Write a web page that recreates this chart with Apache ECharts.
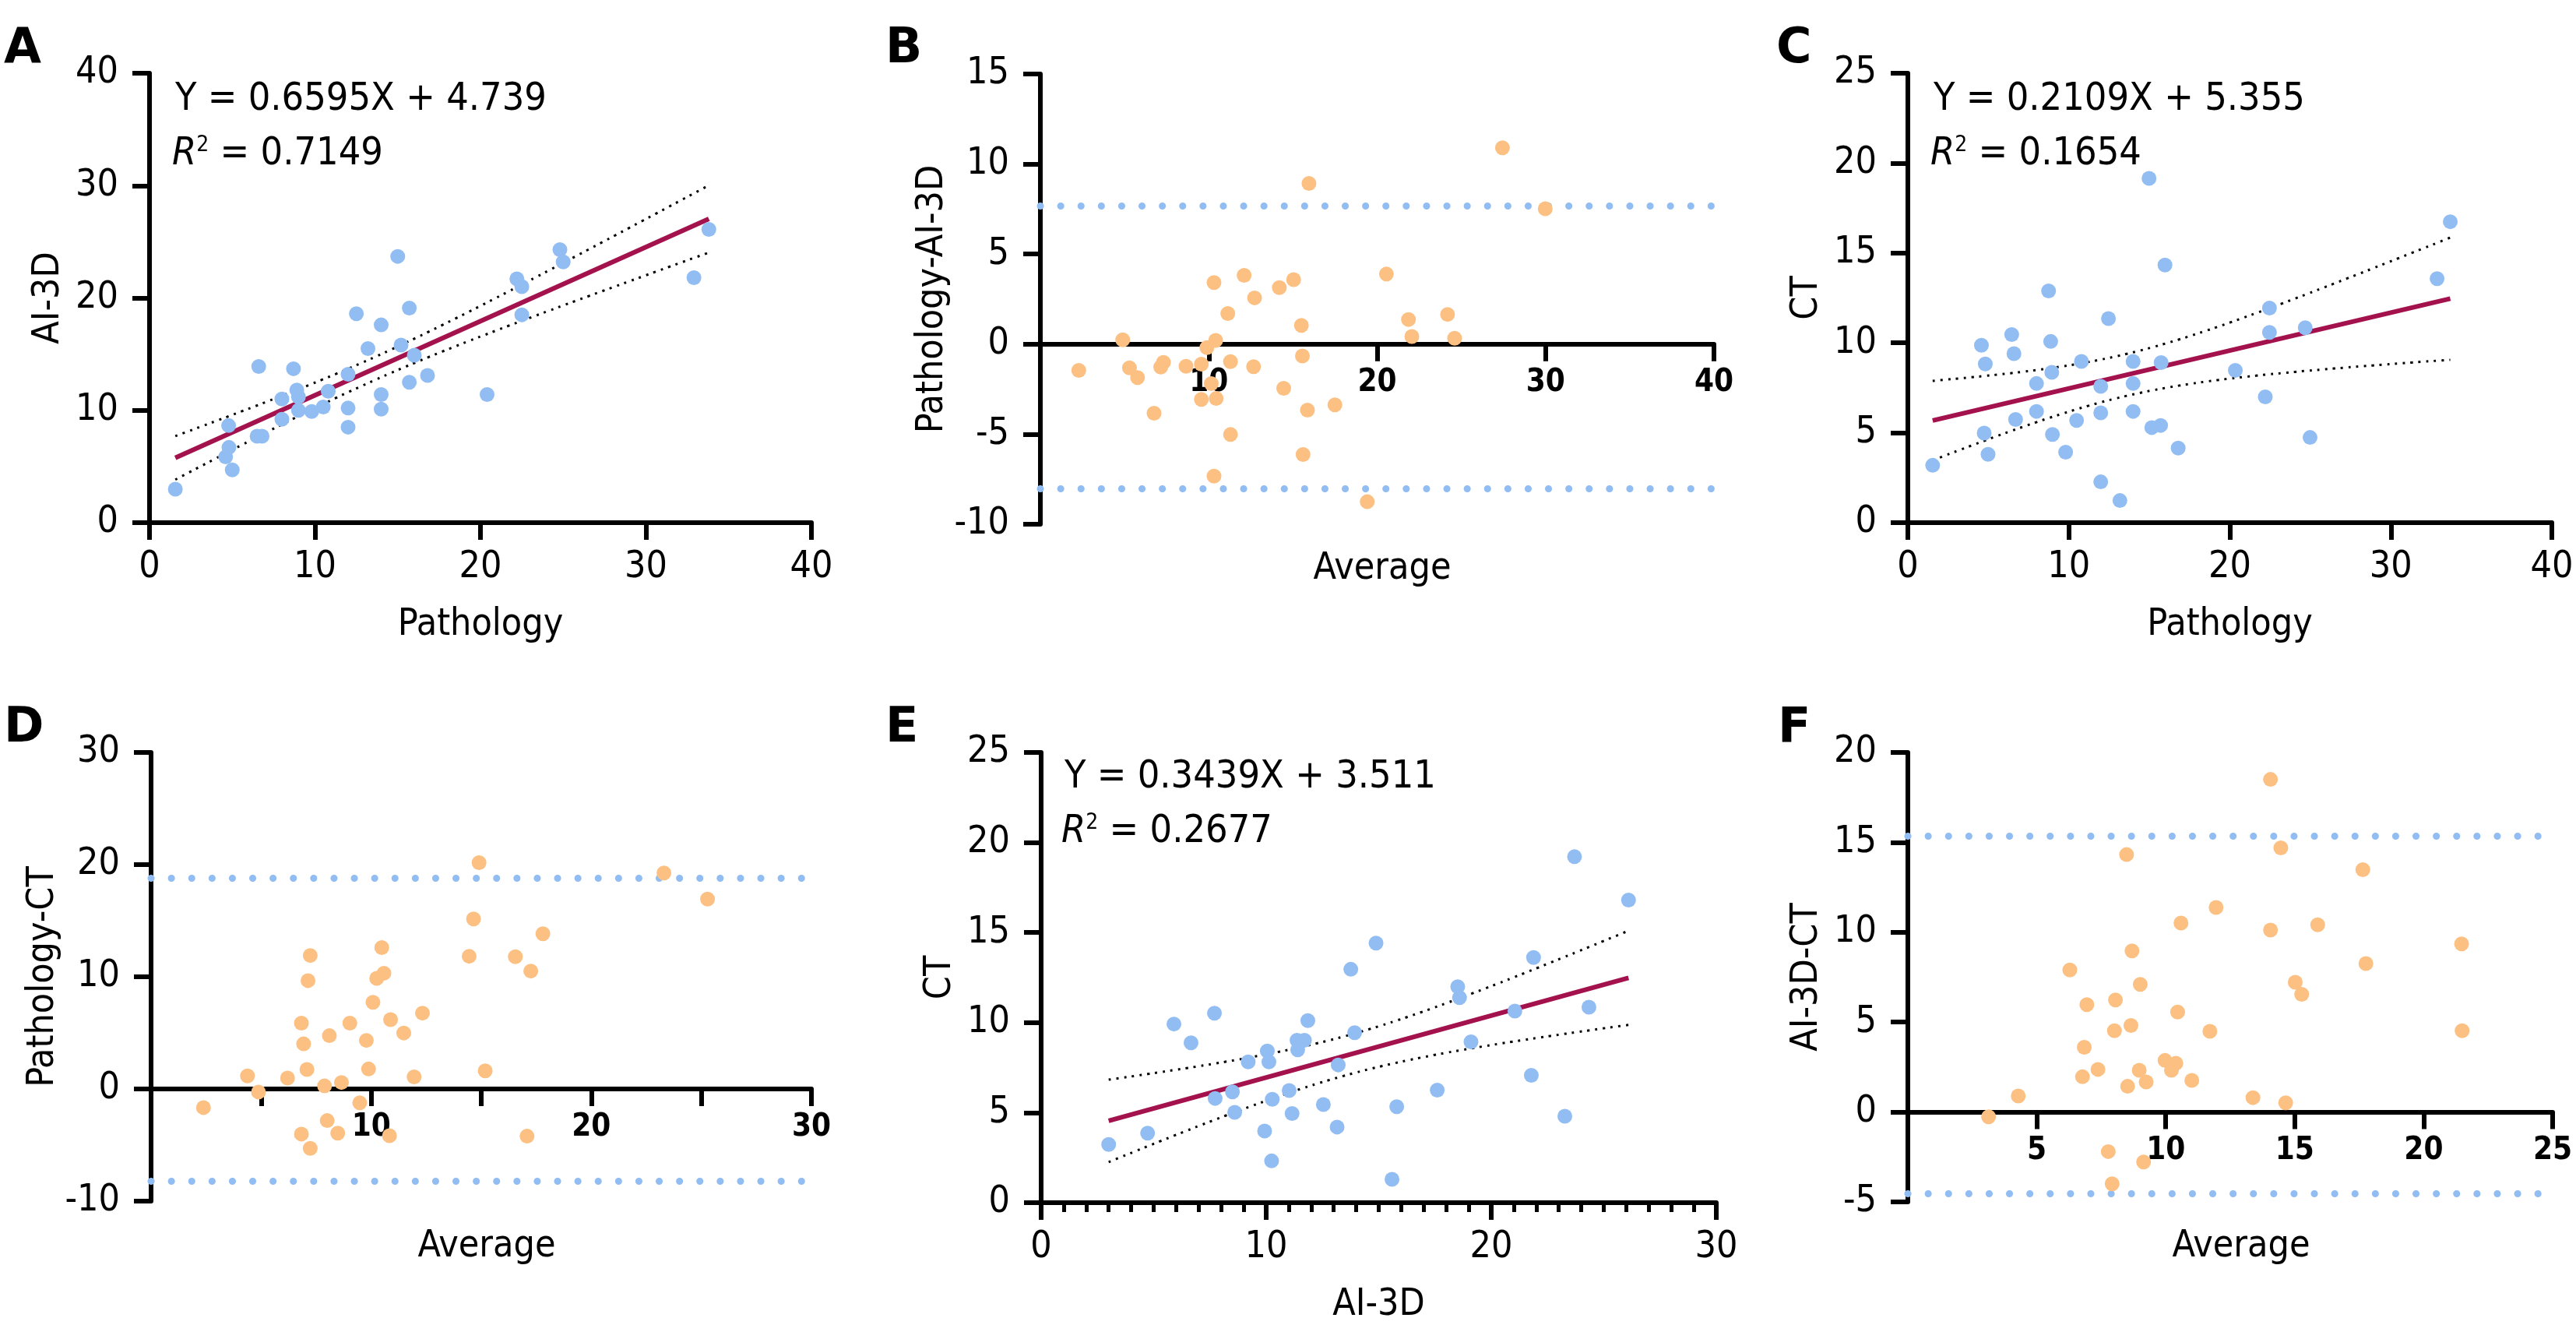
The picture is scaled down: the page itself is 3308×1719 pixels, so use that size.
<!DOCTYPE html>
<html><head><meta charset="utf-8">
<script src="https://cdn.jsdelivr.net/npm/echarts@6/dist/echarts.min.js"></script>
<style>html,body{margin:0;padding:0;background:#fff}#c{width:3308px;height:1719px}</style>
</head><body><div id="c"></div>
<script>
// ---- data ----
const aX=[1.56,4.78,4.8,4.6,5.0,6.6,6.5,6.8,8.0,8.0,8.7,8.9,9.0,9.0,9.8,10.5,10.8,12.0,12.0,12.0,12.5,13.2,14.0,14.0,14.0,15.0,15.2,15.7,16.0,15.7,16.8,20.4,22.2,22.5,22.5,24.8,25.0,32.9,33.8];
const aY=[2.98,8.64,6.7,5.85,4.7,13.9,7.7,7.7,11.0,9.2,13.7,11.8,11.2,10.0,9.9,10.3,11.7,13.2,10.2,8.5,18.6,15.5,17.6,11.4,10.1,23.7,15.8,19.1,14.9,12.5,13.1,11.4,21.7,21.0,18.5,24.3,23.2,21.8,26.1];
const cX=[1.54,4.57,4.81,4.74,4.98,6.45,6.59,6.69,7.99,7.99,8.74,8.87,8.94,8.98,9.8,10.48,10.78,11.98,11.98,11.98,12.46,13.17,13.99,13.99,13.99,14.98,15.15,15.7,15.73,15.97,16.79,20.34,22.2,22.46,22.46,24.68,24.98,32.87,33.69];
const cY=[3.19,9.87,8.83,4.98,3.80,10.46,9.40,5.74,7.74,6.19,12.89,10.08,8.36,4.91,3.92,5.69,8.97,7.58,6.11,2.27,11.35,1.23,8.97,7.74,6.19,19.15,5.29,5.41,8.90,14.33,4.15,8.47,7.0,11.94,10.58,10.84,4.74,13.57,16.74];
const eX=[3.0,4.73,5.9,6.66,7.7,7.73,8.5,8.6,9.2,9.93,10.05,10.12,10.24,10.27,11.02,11.15,11.37,11.4,11.7,11.85,12.54,13.15,13.2,13.76,13.93,14.88,15.59,15.8,17.6,18.51,18.59,19.1,21.05,21.78,21.88,23.27,23.7,24.34,26.1];
const eY=[3.23,3.86,9.92,8.88,10.52,5.79,6.15,5.02,7.82,3.98,8.42,7.82,2.32,5.74,6.23,4.95,9.02,8.49,9.02,10.11,5.45,4.2,7.65,12.96,9.44,14.41,1.3,5.33,6.25,11.99,11.39,8.93,10.64,7.07,13.61,4.8,19.21,10.86,16.8];
const bAvg=[2.28,4.89,5.29,5.77,6.75,7.15,7.31,8.65,9.56,9.56,9.89,10.15,10.31,10.41,10.44,10.31,11.13,11.29,11.29,12.1,12.66,12.72,14.19,14.45,15.04,15.5,15.56,15.6,15.86,15.95,17.49,19.41,20.55,21.86,22.06,24.18,24.6,27.44,29.98];
const bDiff=[-1.46,0.24,-1.32,-1.86,-3.84,-1.27,-1.01,-1.23,-1.11,-3.07,-0.19,-2.19,3.42,0.21,-3.02,-7.33,1.70,-0.97,-5.02,3.82,-1.25,2.57,3.14,-2.45,3.58,1.04,-0.66,-6.13,-3.66,8.92,-3.37,-8.75,3.89,1.37,0.42,1.65,0.33,10.9,7.52];
const dAvg=[2.38,4.38,4.88,6.2,6.83,6.83,6.93,7.08,7.13,7.23,7.23,7.88,8.0,8.1,8.48,8.65,9.03,9.48,9.78,9.88,10.08,10.25,10.48,10.58,10.83,10.88,11.48,11.95,12.33,14.45,14.65,14.9,15.18,16.55,17.08,17.25,17.8,23.3,25.28];
const dDiff=[-1.66,1.16,-0.27,0.97,5.87,-4.02,4.02,1.74,9.66,11.9,-5.29,0.27,-2.82,4.75,-3.94,0.58,5.87,-1.24,4.33,1.78,7.73,9.86,12.6,10.32,-4.17,6.18,4.99,1.08,6.76,11.83,15.15,20.17,1.62,11.79,-4.21,10.51,13.84,19.25,16.93];
const fAvg=[3.13,4.28,6.28,6.77,6.84,6.94,7.37,7.77,7.92,8.01,8.05,8.48,8.52,8.65,8.69,8.97,9.01,9.14,9.24,9.97,10.22,10.39,10.46,10.59,11.01,11.71,11.95,13.38,14.06,14.06,14.46,14.65,15.02,15.27,15.89,17.64,17.76,21.47,21.49];
const fDiff=[-0.27,0.89,7.9,1.96,3.6,5.97,2.37,-2.2,-3.99,4.52,6.23,14.32,1.43,4.81,8.96,2.32,7.1,-2.78,1.67,2.87,2.32,2.71,5.56,10.51,1.76,4.49,11.38,0.8,10.12,18.5,14.69,0.51,7.22,6.55,10.41,13.48,8.26,9.35,4.52];
const fitA=[0.6595,4.739,0.7149], fitC=[0.2109,5.355,0.1654], fitE=[0.3439,3.511,0.2677];
const limB=[7.69,-8.04], limD=[18.82,-8.23], limF=[15.34,-4.52];
// ---- helpers ----
const FONT='"Liberation Sans Narrow","DejaVu Sans Condensed","DejaVu Sans",sans-serif';
const BLUE='#92bdf2', ORANGE='#fcc083', RED='#a3124c';
const zip=(x,y)=>x.map((v,i)=>[v,y[i]]);
function ci(x,y,fit,upper){
  const n=x.length, mx=x.reduce((a,b)=>a+b)/n;
  let sxx=0,sse=0; x.forEach((v,i)=>{sxx+=(v-mx)**2; sse+=(y[i]-(fit[0]*v+fit[1]))**2;});
  const s=Math.sqrt(sse/(n-2)), t=2.026, lo=Math.min(...x), hi=Math.max(...x), out=[];
  for(let k=0;k<=40;k++){const v=lo+(hi-lo)*k/40; const h=t*s*Math.sqrt(1/n+(v-mx)**2/sxx); out.push([v,fit[0]*v+fit[1]+(upper?h:-h)]);}
  return out;
}
const grids=[
 {left:192,top:94,width:850,height:577},
 {left:1336,top:95,width:865,height:578},
 {left:2450,top:94,width:827,height:577},
 {left:194,top:966,width:848,height:576},
 {left:1337,top:966,width:867,height:578},
 {left:2450,top:966,width:828,height:577}];
const axLine={lineStyle:{color:'#000',width:6}};
const tick={length:22,lineStyle:{color:'#000',width:6}};
const lbl={color:'#000',fontSize:48,fontFamily:FONT};
function xNormal(gi,max,name){return {gridIndex:gi,type:'value',min:0,max:max,interval:10,axisLine:axLine,axisTick:tick,axisLabel:Object.assign({margin:34},lbl),splitLine:{show:false},name:name,nameLocation:'middle',nameGap:108,nameTextStyle:{color:'#000',fontSize:48,fontFamily:FONT}};}
function xZero(gi,max,interval,ymin,ymax){const off=-grids[gi].height*(-ymin)/(ymax-ymin);
 return {gridIndex:gi,type:'value',position:'bottom',offset:off,min:0,max:max,interval:interval,axisLine:{onZero:false,lineStyle:{color:'#000',width:6}},axisTick:{length:22,lineStyle:{color:'#000',width:6}},axisLabel:{margin:30,color:'#000',fontSize:40,fontWeight:'bold',fontFamily:'"DejaVu Sans Condensed","DejaVu Sans",sans-serif',formatter:v=>(v===0||(interval===5&&max===30&&v%10!==0))?'':String(v)},splitLine:{show:false}};}
function yAx(gi,min,max,interval,name,gap){return {gridIndex:gi,type:'value',min:min,max:max,interval:interval,axisLine:{onZero:false,lineStyle:{color:'#000',width:6}},axisTick:tick,axisLabel:Object.assign({margin:40},lbl),splitLine:{show:false},name:name,nameLocation:'middle',nameGap:gap,nameTextStyle:{color:'#000',fontSize:48,fontFamily:FONT}};}
function scat(gi,data,color,lim){const s={type:'scatter',xAxisIndex:gi,yAxisIndex:gi,data:data,symbolSize:19,itemStyle:{color:color,opacity:1},z:5};
 if(lim){s.markLine={silent:true,symbol:'none',label:{show:false},lineStyle:{color:BLUE,width:9,type:[0.1,26],cap:'round'},data:lim.map(v=>({yAxis:v}))};}
 return s;}
function regLines(gi,x,y,fit){const lo=Math.min(...x),hi=Math.max(...x);
 return [{type:'line',xAxisIndex:gi,yAxisIndex:gi,data:[[lo,fit[0]*lo+fit[1]],[hi,fit[0]*hi+fit[1]]],showSymbol:false,lineStyle:{color:RED,width:6},z:4},
 {type:'line',xAxisIndex:gi,yAxisIndex:gi,data:ci(x,y,fit,true),showSymbol:false,smooth:true,lineStyle:{color:'#000',width:3,type:[3,7]},z:3},
 {type:'line',xAxisIndex:gi,yAxisIndex:gi,data:ci(x,y,fit,false),showSymbol:false,smooth:true,lineStyle:{color:'#000',width:3,type:[3,7]},z:3}];}
const eqStyle={fontSize:50,fontFamily:FONT,color:'#000',fontWeight:'normal'};
function eq(x,y,fit){return [
 {left:x,top:y,text:'Y = '+fit[0].toFixed(4)+'X + '+fit[1].toFixed(3),textStyle:eqStyle},
 {left:x-4,top:y+70,text:'{i|R}{s|2}{n| = '+fit[2].toFixed(4)+'}',textStyle:{fontWeight:'normal',rich:{i:Object.assign({fontStyle:'italic'},eqStyle),s:{fontSize:28,fontFamily:FONT,color:'#000',verticalAlign:'top',padding:[0,0,18,0]},n:eqStyle}}}];}
function letter(x,y,t){return {left:x,top:y,text:t,textStyle:{fontSize:62,fontWeight:'bold',fontFamily:'"DejaVu Sans",sans-serif',color:'#000'}};}
function cap(cx,cy,t){return {left:cx,top:cy,textAlign:'center',text:t,textStyle:{fontSize:48,fontFamily:FONT,color:'#000',fontWeight:'normal'}};}
const titles=[letter(0,28,'A'),letter(1132,28,'B'),letter(2276,28,'C'),letter(0,900,'D'),letter(1132,900,'E'),letter(2278,900,'F'),
 ...eq(220,98,fitA),...eq(2478,98,fitC),...eq(1362,968,fitE),
 cap(1770,702,'Average'),cap(620,1572,'Average'),cap(2873,1572,'Average')];
const opt={animation:false,backgroundColor:'#fff',grid:grids,title:titles,
 xAxis:[xNormal(0,40,'Pathology'),xZero(1,40,10,-10,15),xNormal(2,40,'Pathology'),xZero(3,30,5,-10,30),
  Object.assign(xNormal(4,30,'AI-3D'),{minorTick:{show:true,splitNumber:10,length:12,lineStyle:{color:'#000',width:5}}}),xZero(5,25,5,-5,20)],
 yAxis:[yAx(0,0,40,10,'AI-3D',105),yAx(1,-10,15,5,'Pathology-AI-3D',105),yAx(2,0,25,5,'CT',105),yAx(3,-10,30,10,'Pathology-CT',105),yAx(4,0,25,5,'CT',105),yAx(5,-5,20,5,'AI-3D-CT',105)],
 series:[...regLines(0,aX,aY,fitA),scat(0,zip(aX,aY),BLUE),
  scat(1,zip(bAvg,bDiff),ORANGE,limB),
  ...regLines(2,cX,cY,fitC),scat(2,zip(cX,cY),BLUE),
  scat(3,zip(dAvg,dDiff),ORANGE,limD),
  ...regLines(4,eX,eY,fitE),scat(4,zip(eX,eY),BLUE),
  scat(5,zip(fAvg,fDiff),ORANGE,limF)]};
echarts.init(document.getElementById('c')).setOption(opt);
</script></body></html>
